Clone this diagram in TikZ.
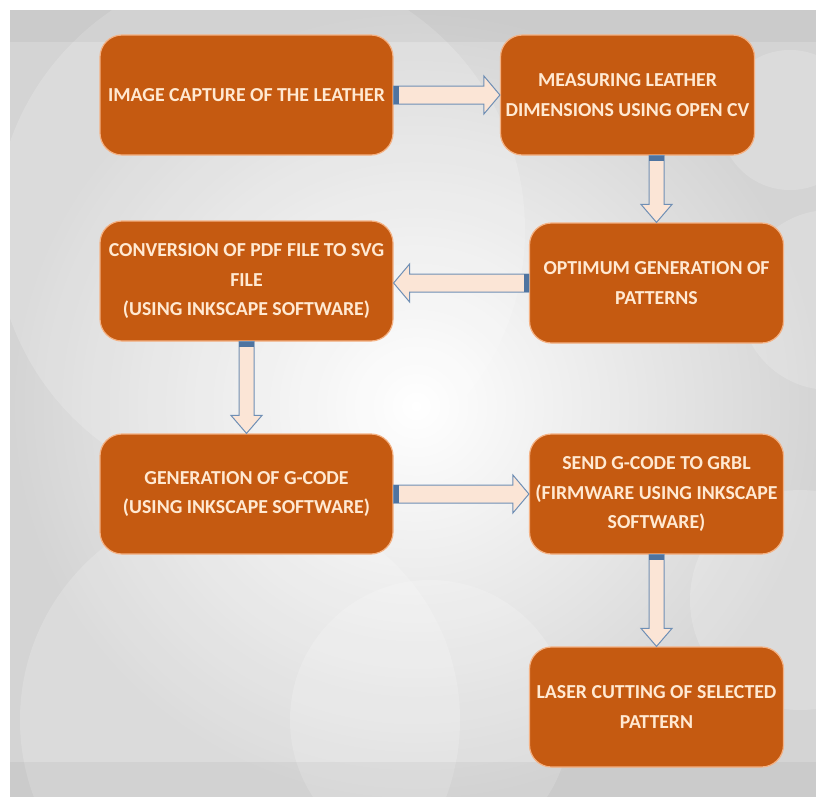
\documentclass[tikz,border=0pt]{standalone}
\usepackage{fontspec}
\setmainfont{Carlito}
\usetikzlibrary{calc,positioning}

\definecolor{boxfill}{HTML}{C55A11}
\definecolor{boxedge}{HTML}{F4B183}
\definecolor{boxtext}{HTML}{FFE9D2}
\definecolor{arrowfill}{HTML}{FBE5D6}
\definecolor{arrowedge}{HTML}{6F8FB5}
\definecolor{arrowband}{HTML}{4F74A0}
\definecolor{bgouter}{HTML}{D4D4D4}

\tikzset{
  stepbox/.style={draw=boxedge, line width=1.2pt, fill=boxfill,
    rounded corners=22pt, minimum width=293pt, minimum height=120pt,
    align=center, text=boxtext, inner sep=4pt,
    font=\fontsize{19.8}{29.5}\selectfont\bfseries},
  narrowbox/.style={stepbox, minimum width=254pt},
  blockarrow/.style={draw=arrowedge, line width=1pt, fill=arrowfill, line join=miter},
  bubble/.style={fill=white, opacity=0.18}
}

% block arrow: tail, tip, half shaft, half head, head length
\newcommand{\flowarrow}[5]{%
  \coordinate (ta) at (#1);
  \coordinate (tp) at (#2);
  \coordinate (hb) at ($(tp)!#5!(ta)$);
  \coordinate (tb) at ($(ta)!5pt!(tp)$);
  \draw[blockarrow] ($(ta)!#3!90:(tp)$) -- ($(hb)!#3!-90:(ta)$)
    -- ($(hb)!#4!-90:(ta)$) -- (tp) -- ($(hb)!#4!90:(ta)$)
    -- ($(hb)!#3!90:(ta)$) -- ($(ta)!#3!-90:(tp)$) -- cycle;
  \fill[arrowband] ($(ta)!#3!90:(tp)$) -- ($(tb)!#3!-90:(ta)$)
    -- ($(tb)!#3!90:(ta)$) -- ($(ta)!#3!-90:(tp)$) -- cycle;
}

\begin{document}
\begin{tikzpicture}[x=1pt,y=-1pt]
  \useasboundingbox (0,0) rectangle (816,796);

  % background
  \fill[bgouter] (10,10) rectangle (830,810);
  \shade[inner color=white, outer color=bgouter] (10,10) rectangle (822,802);
  \begin{scope}
    \clip (10,10) rectangle (830,810);
    \fill[bubble] (260,230) circle (265);
    \fill[bubble] (240,720) circle (220);
    \fill[bubble] (430,720) circle (140);
    \fill[bubble] (790,120) circle (70);
    \fill[bubble] (830,300) circle (90);
    \fill[bubble] (800,600) circle (110);
    \fill[black,opacity=0.04] (10,10) rectangle (830,42);
    \fill[black,opacity=0.04] (10,762) rectangle (830,810);
  \end{scope}

  % steps
  \node[stepbox] (capture) at (246.5,95) {IMAGE CAPTURE OF THE LEATHER};
  \node[narrowbox] (measure) at (627.5,95) {MEASURING LEATHER\\DIMENSIONS USING OPEN CV};
  \node[narrowbox] (optimum) at (656.5,283) {OPTIMUM GENERATION OF\\PATTERNS};
  \node[stepbox] (convert) at (246.5,281) {CONVERSION OF PDF FILE TO SVG\\FILE\\(USING INKSCAPE SOFTWARE)};
  \node[stepbox] (gcode) at (246.5,494) {GENERATION OF G-CODE\\(USING INKSCAPE SOFTWARE)};
  \node[narrowbox] (grbl) at (656.5,494) {SEND G-CODE TO GRBL\\(FIRMWARE USING INKSCAPE\\SOFTWARE)};
  \node[narrowbox] (laser) at (656.5,707) {LASER CUTTING OF SELECTED\\PATTERN};

  % arrows
  \flowarrow{capture.east}{capture.east -| measure.west}{9pt}{19pt}{16pt}
  \flowarrow{optimum.north |- measure.south}{optimum.north}{7.5pt}{15.5pt}{18pt}
  \flowarrow{optimum.west}{optimum.west -| convert.east}{9pt}{19pt}{16pt}
  \flowarrow{convert.south}{convert.south |- gcode.north}{7.5pt}{15.5pt}{18pt}
  \flowarrow{gcode.east}{gcode.east -| grbl.west}{9pt}{19pt}{16pt}
  \flowarrow{grbl.south}{grbl.south |- laser.north}{7.5pt}{15.5pt}{18pt}
\end{tikzpicture}
\end{document}
